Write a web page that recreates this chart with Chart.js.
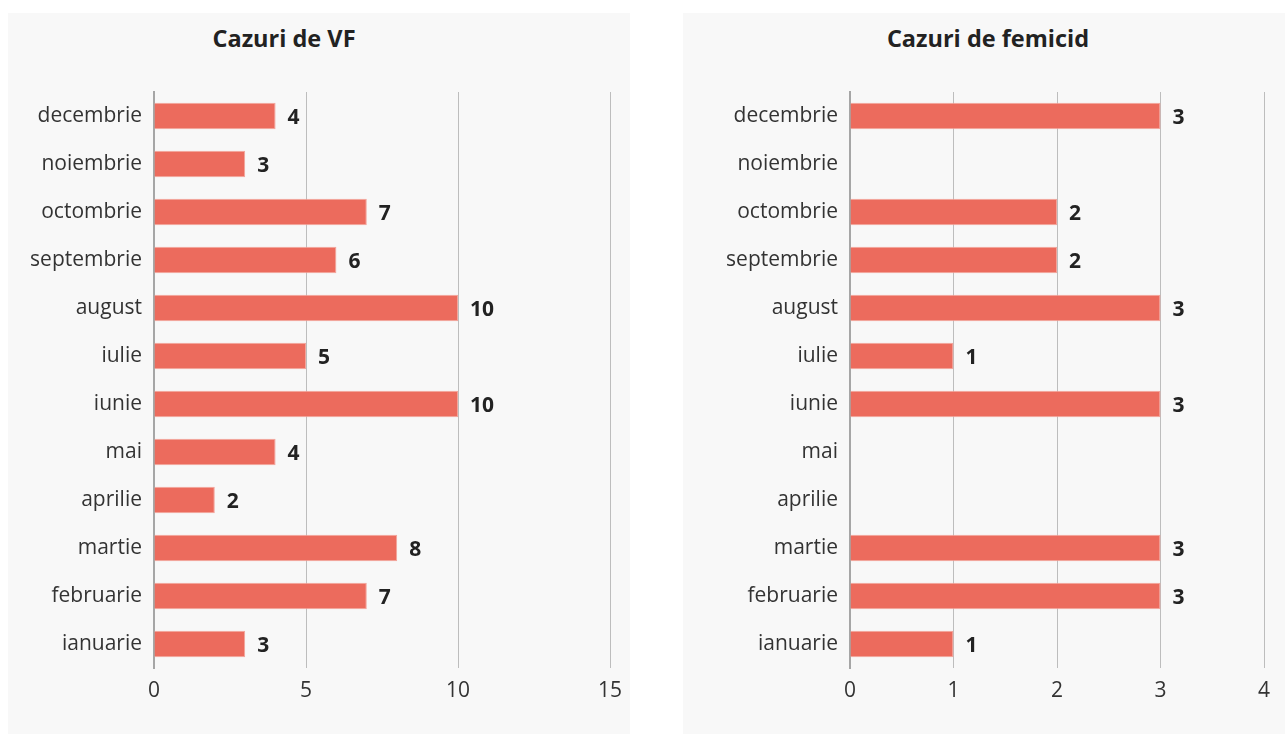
<!DOCTYPE html>
<html>
<head>
<meta charset="utf-8">
<script src="https://cdn.jsdelivr.net/npm/chart.js@4"></script>
<style>
  html, body { margin:0; padding:0; background:#ffffff; width:1285px; height:734px; overflow:hidden; }
  .panel { position:absolute; background:#f8f8f8; }
  .title { position:absolute; font-family:"Open Sans", Lato, sans-serif; font-weight:bold; font-size:23.5px; color:#222; text-align:center; }
  canvas { position:absolute; left:0; top:0; }
</style>
</head>
<body>
<div class="panel" id="p1" style="left:8px; top:13px; width:622px; height:721px;">
  <div class="title" style="left:0; top:9px; width:552px;">Cazuri de VF</div>
  <canvas id="c1" width="622" height="721"></canvas>
</div>
<div class="panel" id="p2" style="left:683px; top:13px; width:602px; height:721px;">
  <div class="title" style="left:0; top:9px; width:610px;">Cazuri de femicid</div>
  <canvas id="c2" width="602" height="721"></canvas>
</div>
<script>
const months = ["ianuarie","februarie","martie","aprilie","mai","iunie","iulie","august","septembrie","octombrie","noiembrie","decembrie"];
const vfCases = [3, 7, 8, 2, 4, 10, 5, 10, 6, 7, 3, 4];
const femicideCases = [1, 3, 3, 0, 0, 3, 1, 3, 2, 2, 0, 3];
const vfTicks = [0, 5, 10, 15];
const femicideTicks = [0, 1, 2, 3, 4];

const FONT = "'Open Sans', Lato, sans-serif";

const valueLabels = {
  id: 'valueLabels',
  afterDatasetsDraw(chart) {
    const ctx = chart.ctx;
    const meta = chart.getDatasetMeta(0);
    const data = chart.data.datasets[0].data;
    ctx.save();
    ctx.font = "bold 21px " + FONT;
    ctx.fillStyle = "#222";
    ctx.textAlign = "left";
    ctx.textBaseline = "middle";
    meta.data.forEach((bar, i) => {
      if (!data[i]) return;
      ctx.fillText(String(data[i]), bar.x + 12, bar.y + 2);
    });
    ctx.restore();
  }
};

function makeChart(id, values, ticks, yWidth, padRight) {
  const maxV = ticks[ticks.length - 1];
  const step = ticks[1] - ticks[0];
  return new Chart(document.getElementById(id), {
    type: 'bar',
    data: {
      labels: months,
      datasets: [{
        data: values,
        backgroundColor: '#ec6b5d',
        borderColor: '#f3a59c',
        borderWidth: 1,
        borderSkipped: 'left',
        categoryPercentage: 1,
        barPercentage: 0.55
      }]
    },
    options: {
      indexAxis: 'y',
      responsive: false,
      animation: false,
      events: [],
      layout: { padding: { top: 79, right: padRight, bottom: 0, left: 0 } },
      plugins: { legend: { display: false }, tooltip: { enabled: false }, title: { display: false } },
      scales: {
        x: {
          min: 0, max: maxV,
          afterBuildTicks: (scale) => { scale.ticks = ticks.map(v => ({ value: v })); },
          ticks: { stepSize: step, padding: 10, color: '#333', font: { family: FONT, size: 21 } },
          grid: { color: '#bdbdbd', lineWidth: 1, drawTicks: false },
          border: { display: false },
          afterFit: (scale) => { scale.height = 66; scale.paddingRight = 0; scale.paddingLeft = 0; }
        },
        y: {
          reverse: true,
          ticks: { padding: 12, color: '#333', font: { family: FONT, size: 21 } },
          grid: { display: false, drawTicks: false },
          border: { display: true, color: '#a6a6a6', width: 2 },
          afterFit: (scale) => { scale.width = yWidth; }
        }
      }
    },
    plugins: [valueLabels]
  });
}

makeChart('c1', vfCases, vfTicks, 146, 20);
makeChart('c2', femicideCases, femicideTicks, 167, 21);
</script>
</body>
</html>
